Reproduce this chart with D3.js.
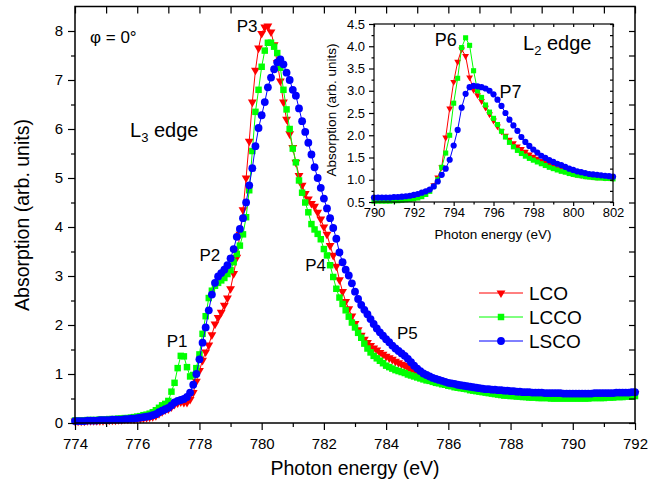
<!DOCTYPE html>
<html>
<head>
<meta charset="utf-8">
<script src="https://cdn.jsdelivr.net/npm/d3@7"></script>
<style>
  body { margin: 0; background: #fff; }
  text { font-family: Arial, "Liberation Sans", sans-serif; fill: #000; }
</style>
</head>
<body>
<svg id="chart" width="648" height="490"></svg>
<script>
// ---------- L3 edge spectra (main panel), 0.1 eV steps ----------
const mainEnergy = [
  774.0,774.1,774.2,774.3,774.4,774.5,774.6,774.7,774.8,774.9,
  775.0,775.1,775.2,775.3,775.4,775.5,775.6,775.7,775.8,775.9,
  776.0,776.1,776.2,776.3,776.4,
  776.5,776.6,776.7,776.8,776.9,777.0,777.1,777.2,777.3,777.4,
  777.5,777.6,777.7,777.8,777.9,778.0,778.1,778.2,778.3,778.4,
  778.5,778.6,778.7,778.8,778.9,779.0,779.1,779.2,779.3,779.4,
  779.5,779.6,779.7,779.8,779.9,780.0,780.1,780.2,780.3,780.4,
  780.5,780.6,780.7,780.8,780.9,781.0,781.1,781.2,781.3,781.4,
  781.5,781.6,781.7,781.8,781.9,782.0,782.1,782.2,782.3,782.4,
  782.5,782.6,782.7,782.8,782.9,783.0,783.1,783.2,783.3,783.4,
  783.5,783.6,783.7,783.8,783.9,784.0,784.1,784.2,784.3,784.4,
  784.5,784.6,784.7,784.8,784.9,785.0,785.1,785.2,785.3,785.4,
  785.5,785.6,785.7,785.8,785.9,786.0,
  786.1,786.2,786.3,786.4,786.5,786.6,786.7,786.8,786.9,787.0,
  787.1,787.2,787.3,787.4,787.5,787.6,787.7,787.8,787.9,788.0,
  788.1,788.2,788.3,788.4,788.5,788.6,788.7,788.8,788.9,789.0,
  789.1,789.2,789.3,789.4,789.5,789.6,789.7,789.8,789.9,790.0,
  790.1,790.2,790.3,790.4,790.5,790.6,790.7,790.8,790.9,791.0,
  791.1,791.2,791.3,791.4,791.5,791.6,791.7,791.8,791.9,792.0
];
const mainLCO = [
  0.04,0.04,0.04,0.04,0.05,0.05,0.05,0.05,0.05,0.05,
  0.06,0.06,0.06,0.06,0.07,0.07,0.08,0.08,0.08,0.08,
  0.09,0.09,0.10,0.11,0.12,
  0.13,0.15,0.19,0.23,0.27,0.29,0.33,0.38,0.41,0.43,
  0.42,0.42,0.48,0.62,0.85,1.07,1.28,1.45,1.59,1.80,
  2.02,2.15,2.26,2.40,2.55,2.74,3.05,3.38,3.85,4.35,
  5.00,5.75,6.55,7.20,7.65,7.95,8.08,8.10,7.98,7.72,
  7.35,6.98,6.55,6.20,5.90,5.62,5.32,5.05,4.85,4.68,
  4.57,4.48,4.42,4.30,4.16,4.00,3.85,3.62,3.42,3.20,
  2.92,2.68,2.48,2.33,2.18,2.03,1.90,1.79,1.71,1.64,
  1.58,1.53,1.49,1.44,1.40,1.36,1.33,1.30,1.26,1.23,
  1.20,1.17,1.13,1.10,1.07,1.04,1.01,0.98,0.96,0.93,
  0.91,0.89,0.87,0.85,0.83,0.82,
  0.80,0.78,0.76,0.75,0.74,0.73,0.72,0.71,0.70,0.69,
  0.68,0.67,0.66,0.65,0.65,0.64,0.64,0.63,0.63,0.62,
  0.62,0.61,0.61,0.60,0.60,0.59,0.59,0.59,0.58,0.58,
  0.58,0.58,0.57,0.57,0.57,0.57,0.57,0.57,0.57,0.57,
  0.57,0.57,0.57,0.57,0.57,0.57,0.57,0.57,0.58,0.58,
  0.58,0.58,0.58,0.58,0.59,0.59,0.59,0.59,0.60,0.60
];
const mainLCCO = [
  0.05,0.05,0.05,0.05,0.06,0.06,0.06,0.06,0.07,0.07,
  0.07,0.08,0.08,0.08,0.09,0.09,0.10,0.10,0.11,0.12,
  0.13,0.14,0.16,0.17,0.19,
  0.22,0.26,0.31,0.36,0.39,0.45,0.64,0.82,1.12,1.37,
  1.36,1.14,0.95,0.98,1.12,1.40,1.82,2.18,2.55,2.70,
  2.80,2.86,2.91,2.96,3.04,3.12,3.28,3.45,3.62,3.85,
  4.20,4.75,5.55,6.35,6.80,7.27,7.60,7.76,7.76,7.68,
  7.55,7.25,6.80,6.40,6.00,5.60,5.32,4.95,4.70,4.50,
  4.30,4.06,3.95,3.86,3.75,3.55,3.42,3.22,2.98,2.74,
  2.56,2.43,2.30,2.17,2.05,1.95,1.84,1.74,1.62,1.52,
  1.44,1.37,1.32,1.27,1.22,1.17,1.14,1.11,1.08,1.06,
  1.04,1.02,0.99,0.97,0.95,0.93,0.91,0.89,0.87,0.86,
  0.84,0.82,0.81,0.79,0.78,0.76,
  0.75,0.73,0.72,0.71,0.70,0.69,0.67,0.66,0.65,0.64,
  0.63,0.62,0.61,0.60,0.59,0.58,0.57,0.56,0.56,0.55,
  0.55,0.54,0.54,0.53,0.53,0.52,0.52,0.52,0.51,0.51,
  0.51,0.51,0.50,0.50,0.50,0.50,0.50,0.50,0.50,0.50,
  0.50,0.50,0.50,0.50,0.50,0.51,0.51,0.51,0.51,0.51,
  0.52,0.52,0.52,0.53,0.53,0.53,0.54,0.54,0.54,0.55
];
const mainLSCO = [
  0.04,0.04,0.04,0.04,0.05,0.05,0.05,0.05,0.06,0.06,
  0.06,0.06,0.07,0.07,0.07,0.07,0.08,0.08,0.09,0.09,
  0.10,0.11,0.12,0.13,0.14,
  0.16,0.18,0.22,0.25,0.28,0.31,0.36,0.42,0.45,0.47,
  0.49,0.53,0.62,0.78,1.00,1.30,1.64,1.95,2.30,2.62,
  2.86,2.99,3.06,3.13,3.22,3.36,3.55,3.80,3.96,4.18,
  4.50,4.85,5.20,5.65,6.02,6.28,6.55,6.85,7.05,7.22,
  7.36,7.42,7.32,7.15,7.00,6.80,6.68,6.42,6.16,5.94,
  5.72,5.48,5.22,5.00,4.80,4.58,4.38,4.18,3.98,3.76,
  3.48,3.28,3.13,3.01,2.85,2.68,2.53,2.41,2.31,2.22,
  2.12,2.02,1.93,1.85,1.78,1.71,1.65,1.58,1.52,1.47,
  1.42,1.37,1.31,1.24,1.17,1.11,1.06,1.01,0.98,0.95,
  0.92,0.90,0.88,0.86,0.84,0.82,
  0.81,0.80,0.78,0.77,0.76,0.75,0.74,0.73,0.72,0.71,
  0.70,0.69,0.69,0.68,0.68,0.67,0.67,0.66,0.66,0.65,
  0.65,0.64,0.64,0.63,0.63,0.63,0.62,0.62,0.62,0.62,
  0.61,0.61,0.61,0.61,0.61,0.61,0.60,0.60,0.60,0.60,
  0.60,0.60,0.60,0.60,0.60,0.60,0.61,0.61,0.61,0.61,
  0.61,0.61,0.61,0.62,0.62,0.62,0.62,0.62,0.63,0.63
];

// ---------- L2 edge spectra (inset), 0.2 eV steps ----------
const insetEnergy = [
  790.0,790.2,790.4,790.6,790.8,791.0,791.2,791.4,791.6,791.8,
  792.0,792.2,792.4,792.6,792.8,793.0,793.2,793.4,793.6,793.8,
  794.0,794.2,794.4,794.6,794.8,795.0,795.2,795.4,795.6,795.8,
  796.0,796.2,796.4,796.6,796.8,797.0,797.2,797.4,797.6,797.8,
  798.0,798.2,798.4,798.6,798.8,799.0,799.2,799.4,799.6,799.8,
  800.0,800.2,800.4,800.6,800.8,801.0,801.2,801.4,801.6,801.8,
  802.0
];
const insetLCO = [
  0.56,0.56,0.56,0.56,0.56,0.56,0.57,0.57,0.58,0.59,
  0.60,0.62,0.65,0.70,0.77,0.88,1.05,1.28,1.95,2.60,
  3.20,3.65,3.93,3.78,3.30,3.02,2.90,2.77,2.62,2.47,
  2.33,2.20,2.09,1.99,1.90,1.82,1.75,1.69,1.63,1.57,
  1.52,1.47,1.42,1.38,1.34,1.30,1.26,1.23,1.20,1.17,
  1.14,1.12,1.10,1.09,1.08,1.07,1.06,1.06,1.05,1.05,
  1.04
];
const insetLCCO = [
  0.52,0.52,0.52,0.52,0.52,0.53,0.53,0.54,0.55,0.56,
  0.57,0.59,0.62,0.67,0.74,0.85,1.00,1.28,1.60,2.00,
  2.72,3.28,3.97,4.19,4.02,3.45,3.00,2.85,2.68,2.52,
  2.38,2.24,2.09,1.96,1.84,1.74,1.66,1.59,1.53,1.48,
  1.44,1.40,1.36,1.32,1.28,1.25,1.22,1.19,1.17,1.14,
  1.12,1.10,1.09,1.07,1.06,1.05,1.04,1.04,1.03,1.03,
  1.02
];
const insetLSCO = [
  0.60,0.60,0.60,0.60,0.60,0.61,0.61,0.62,0.63,0.64,
  0.66,0.68,0.71,0.74,0.78,0.85,0.96,1.11,1.25,1.45,
  1.77,2.12,2.62,2.93,3.08,3.11,3.10,3.08,3.05,3.00,
  2.92,2.80,2.66,2.50,2.35,2.22,2.10,1.96,1.85,1.76,
  1.68,1.61,1.54,1.49,1.44,1.40,1.36,1.33,1.29,1.25,
  1.22,1.19,1.17,1.15,1.13,1.12,1.11,1.10,1.09,1.08,
  1.07
];

// ---------- axis ticks & labels ----------
const mainXMajor = [774,776,778,780,782,784,786,788,790,792];
const mainXMinor = [775,777,779,781,783,785,787,789,791];
const mainYMajor = [0,1,2,3,4,5,6,7,8];
const mainYMinor = [0.5,1.5,2.5,3.5,4.5,5.5,6.5,7.5];
const insetXMajor = [790,792,794,796,798,800,802];
const insetXMinor = [791,793,795,797,799,801];
const insetYMajor = [0.5,1.0,1.5,2.0,2.5,3.0,3.5,4.0,4.5];
const insetYMinor = [0.75,1.25,1.75,2.25,2.75,3.25,3.75,4.25];

const seriesNames = ["LCO", "LCCO", "LSCO"];
const seriesColors = ["#ff0000", "#00ff00", "#0000ff"];
const mainMarkerArea = [34, 42, 48];
const insetMarkerArea = [20, 26, 30];

const svg = d3.select("#chart");

const x = d3.scaleLinear().domain([774, 792]).range([75, 635]);
const y = d3.scaleLinear().domain([0, 8.5]).range([423, 6.5]);
const xi = d3.scaleLinear().domain([790, 802]).range([374, 613]);
const yi = d3.scaleLinear().domain([0.5, 4.5]).range([202, 24]);

function markerPath(kind, area) {
  if (kind === 0) return d3.symbol(d3.symbolTriangle, area)();
  if (kind === 1) return d3.symbol(d3.symbolSquare, area)();
  return d3.symbol(d3.symbolCircle, area)();
}

function styleAxis(g, fontSize) {
  g.select("path.domain").remove();
  g.selectAll("line").attr("stroke", "#000").attr("stroke-width", 1.2);
  g.selectAll("text").style("font-size", fontSize + "px")
    .style("font-family", 'Arial, "Liberation Sans", sans-serif').attr("fill", "#000");
}

function drawSeries(layer, xs, ys, energies, values, i, areas) {
  const pts = energies.map((e, k) => [xs(e), ys(values[k])]);
  layer.append("path")
    .attr("d", d3.line()(pts))
    .attr("fill", "none")
    .attr("stroke", seriesColors[i])
    .attr("stroke-width", 1);
  const d = markerPath(i, areas[i]);
  layer.append("g").selectAll("path")
    .data(pts)
    .join("path")
    .attr("d", d)
    .attr("transform", p => `translate(${p[0]},${p[1]})` + (i === 0 ? " rotate(180)" : ""))
    .attr("fill", seriesColors[i]);
}

// ---------- main panel ----------
const mainLayer = svg.append("g");
[mainLCO, mainLCCO, mainLSCO].forEach((vals, i) =>
  drawSeries(mainLayer, x, y, mainEnergy, vals, i, mainMarkerArea));

// frame
svg.append("rect").attr("x", 75).attr("y", 6.5).attr("width", 560).attr("height", 416.5)
  .attr("fill", "none").attr("stroke", "#000").attr("stroke-width", 1.5);

styleAxis(svg.append("g").attr("transform", "translate(0,423)")
  .call(d3.axisBottom(x).tickValues(mainXMajor).tickSize(7).tickPadding(8).tickFormat(d3.format("d"))), 15);
styleAxis(svg.append("g").attr("transform", "translate(0,423)")
  .call(d3.axisBottom(x).tickValues(mainXMinor).tickSize(4).tickFormat("")), 15);
styleAxis(svg.append("g").attr("transform", "translate(0,6.5)")
  .call(d3.axisTop(x).tickValues(mainXMajor.concat(mainXMinor)).tickSize(-7).tickFormat("")), 15);
styleAxis(svg.append("g").attr("transform", "translate(75,0)")
  .call(d3.axisLeft(y).tickValues(mainYMajor).tickSize(7).tickPadding(5).tickFormat(d3.format("d"))), 15);
styleAxis(svg.append("g").attr("transform", "translate(75,0)")
  .call(d3.axisLeft(y).tickValues(mainYMinor).tickSize(4).tickFormat("")), 15);
styleAxis(svg.append("g").attr("transform", "translate(635,0)")
  .call(d3.axisRight(y).tickValues(mainYMajor.concat(mainYMinor)).tickSize(-6).tickFormat("")), 15);

// axis titles
svg.append("text").attr("x", 355).attr("y", 475).attr("text-anchor", "middle")
  .style("font-size", "19.5px").text("Photon energy (eV)");
svg.append("text").attr("transform", "translate(29,215) rotate(-90)").attr("text-anchor", "middle")
  .style("font-size", "19.5px").text("Absorption (arb. units)");

// annotations
svg.append("text").attr("x", 90).attr("y", 43).style("font-size", "17px").text("φ = 0°");
const l3 = svg.append("text").attr("x", 130).attr("y", 137).style("font-size", "20px");
l3.append("tspan").text("L");
l3.append("tspan").attr("dy", 5).style("font-size", "13px").text("3");
l3.append("tspan").attr("dy", -5).text(" edge");

const peakLabels = [
  { t: "P1", e: 776.95, a: 1.55 },
  { t: "P2", e: 778.0, a: 3.3 },
  { t: "P3", e: 779.2, a: 7.98 },
  { t: "P4", e: 781.4, a: 3.1 },
  { t: "P5", e: 784.35, a: 1.71 }
];
peakLabels.forEach(p => {
  svg.append("text").attr("x", x(p.e)).attr("y", y(p.a)).style("font-size", "17px").text(p.t);
});

// legend
seriesNames.forEach((name, i) => {
  const ly = 293 + i * 24;
  svg.append("line").attr("x1", 479).attr("x2", 523).attr("y1", ly).attr("y2", ly)
    .attr("stroke", seriesColors[i]).attr("stroke-width", 1);
  svg.append("path").attr("d", markerPath(i, mainMarkerArea[i]))
    .attr("transform", `translate(501,${ly})` + (i === 0 ? " rotate(180)" : ""))
    .attr("fill", seriesColors[i]);
  svg.append("text").attr("x", 529).attr("y", ly + 7).style("font-size", "19px").text(name);
});

// ---------- inset ----------
svg.append("rect").attr("x", 374).attr("y", 24).attr("width", 239).attr("height", 178)
  .attr("fill", "#fff");
const insetLayer = svg.append("g");
[insetLCO, insetLCCO, insetLSCO].forEach((vals, i) =>
  drawSeries(insetLayer, xi, yi, insetEnergy, vals, i, insetMarkerArea));
svg.append("rect").attr("x", 374).attr("y", 24).attr("width", 239).attr("height", 178)
  .attr("fill", "none").attr("stroke", "#000").attr("stroke-width", 1.2);

styleAxis(svg.append("g").attr("transform", "translate(0,202)")
  .call(d3.axisBottom(xi).tickValues(insetXMajor).tickSize(4).tickPadding(2).tickFormat(d3.format("d"))), 13);
styleAxis(svg.append("g").attr("transform", "translate(0,202)")
  .call(d3.axisBottom(xi).tickValues(insetXMinor).tickSize(2.5).tickFormat("")), 13);
styleAxis(svg.append("g").attr("transform", "translate(0,24)")
  .call(d3.axisTop(xi).tickValues(insetXMajor.concat(insetXMinor)).tickSize(-3).tickFormat("")), 13);
styleAxis(svg.append("g").attr("transform", "translate(374,0)")
  .call(d3.axisLeft(yi).tickValues(insetYMajor).tickSize(5).tickPadding(4).tickFormat(d3.format(".1f"))), 13);
styleAxis(svg.append("g").attr("transform", "translate(374,0)")
  .call(d3.axisLeft(yi).tickValues(insetYMinor).tickSize(2.5).tickFormat("")), 13);
styleAxis(svg.append("g").attr("transform", "translate(613,0)")
  .call(d3.axisRight(yi).tickValues(insetYMajor.concat(insetYMinor)).tickSize(-3).tickFormat("")), 13);

svg.append("text").attr("x", 493).attr("y", 239).attr("text-anchor", "middle")
  .style("font-size", "13.5px").text("Photon energy (eV)");
svg.append("text").attr("transform", "translate(336,110) rotate(-90)").attr("text-anchor", "middle")
  .style("font-size", "13.5px").text("Absorption (arb. units)");

const l2 = svg.append("text").attr("x", 523).attr("y", 50).style("font-size", "20px");
l2.append("tspan").text("L");
l2.append("tspan").attr("dy", 5).style("font-size", "13px").text("2");
l2.append("tspan").attr("dy", -5).text(" edge");

const insetPeakLabels = [
  { t: "P6", e: 793.05, a: 4.0 },
  { t: "P7", e: 796.3, a: 2.84 }
];
insetPeakLabels.forEach(p => {
  svg.append("text").attr("x", xi(p.e)).attr("y", yi(p.a)).style("font-size", "18px").text(p.t);
});
</script>
</body>
</html>
